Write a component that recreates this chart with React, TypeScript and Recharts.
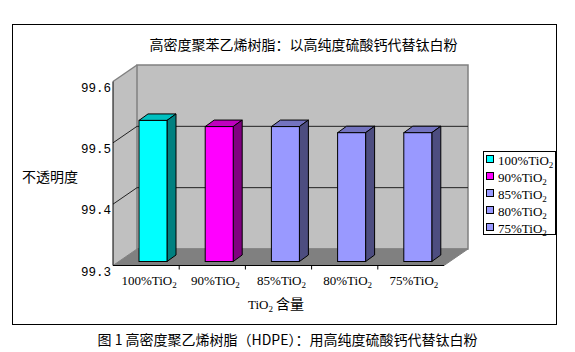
import React from 'react';
import { BarChart, Bar, XAxis, YAxis, ReferenceArea, ReferenceLine, Legend } from 'recharts';

const categories = ['100%TiO2', '90%TiO2', '85%TiO2', '80%TiO2', '75%TiO2'];
const opacityValues = [99.53, 99.52, 99.52, 99.51, 99.51];
const yTicks = [99.3, 99.4, 99.5, 99.6];
const gridValues = [99.4, 99.5];

const faceColors = ['#00ffff', '#ff00ff', '#9999ff', '#9999ff', '#9999ff'];
const sideColors = ['#008080', '#800080', '#4d4d80', '#4d4d80', '#4d4d80'];
const topColors = ['#00c0c0', '#c000c0', '#7373bf', '#7373bf', '#7373bf'];

const data = categories.map((name, i) => ({ name, value: opacityValues[i] }));

// depth of the 3D box and of the bars
const DX = 24;
const DY = 16.5;
const BAR_DX = 7;
const BAR_DY = 4;
const BAR_DEPTH_X = 9;
const BAR_DEPTH_Y = 6.5;

const serif = '"Liberation Serif", "Times New Roman", serif';
const cjk = '"Noto Sans CJK SC", sans-serif';
const mono = '"Liberation Mono", "DejaVu Sans Mono", monospace';

const Box = (props: any) => {
  const { x, y, width, height } = props;
  const b = y + height;
  return (
    <g>
      <polygon
        points={`${x},${y} ${x + DX},${y - DY} ${x + DX},${b - DY} ${x},${b}`}
        fill="#c0c0c0"
      />
      <rect x={x + DX} y={y - DY} width={width} height={height} fill="#c0c0c0" stroke="#808080" strokeWidth={1.5} />
      <polygon
        points={`${x},${b} ${x + DX},${b - DY} ${x + width + DX},${b - DY} ${x + width},${b}`}
        fill="#808080"
        stroke="#808080"
      />
      <line x1={x} y1={y} x2={x + DX} y2={y - DY} stroke="#808080" strokeWidth={1.5} />
    </g>
  );
};

const GridLine = (props: any) => {
  const { x1, y1, x2 } = props;
  return (
    <polyline
      points={`${x1},${y1} ${x1 + DX},${y1 - DY} ${x2 + DX},${y1 - DY}`}
      fill="none"
      stroke="#222"
      strokeWidth={1}
    />
  );
};

const Bar3D = (props: any) => {
  const { x, y, width, height, payload } = props;
  const i = categories.indexOf(payload.name);
  const fx = x + BAR_DX;
  const fy = y - BAR_DY;
  const r = fx + width;
  return (
    <g stroke="#000" strokeWidth={1}>
      <polygon
        points={`${fx},${fy} ${fx + BAR_DEPTH_X},${fy - BAR_DEPTH_Y} ${r + BAR_DEPTH_X},${fy - BAR_DEPTH_Y} ${r},${fy}`}
        fill={topColors[i]}
      />
      <polygon
        points={`${r},${fy} ${r + BAR_DEPTH_X},${fy - BAR_DEPTH_Y} ${r + BAR_DEPTH_X},${fy + height - BAR_DEPTH_Y} ${r},${fy + height}`}
        fill={sideColors[i]}
      />
      <rect x={fx} y={fy} width={width} height={height} fill={faceColors[i]} />
    </g>
  );
};

const XTick = (props: any) => {
  const { x, y, payload, index } = props;
  const label: string = payload.value;
  const band = 331 / categories.length;
  return (
    <g>
      {index > 0 && <line x1={x - band / 2} y1={y} x2={x - band / 2} y2={y + 4} stroke="#000" />}
      <text x={x + 3} y={y + 19} textAnchor="middle" fontFamily={serif} fontSize={13} fill="#000">
        <tspan>{label.slice(0, -1)}</tspan>
        <tspan fontSize={9} dy={3}>{label.slice(-1)}</tspan>
      </text>
    </g>
  );
};

const YTick = (props: any) => {
  const { x, y, payload } = props;
  return (
    <text x={x - 2} y={y + 10} textAnchor="end" fontFamily={mono} fontSize={12.5} fill="#000">
      {payload.value.toFixed(1)}
    </text>
  );
};

const LegendBox = () => (
  <div
    style={{
      border: '1px solid #000',
      background: '#fff',
      width: 73,
      height: 84,
      boxSizing: 'border-box',
      padding: '1px 0 0 2px',
    }}
  >
    {categories.map((c, i) => (
      <div key={c} style={{ display: 'flex', alignItems: 'flex-start', height: 17, whiteSpace: 'nowrap' }}>
        <div
          style={{
            width: 8,
            height: 8,
            boxSizing: 'border-box',
            border: '1px solid #000',
            background: faceColors[i],
            marginTop: 2,
            marginRight: 4,
          }}
        />
        <span style={{ fontFamily: serif, fontSize: 13, lineHeight: '15px', color: '#000' }}>
          {c.slice(0, -1)}
          <sub style={{ fontSize: 9, verticalAlign: -3, lineHeight: 0 }}>{c.slice(-1)}</sub>
        </span>
      </div>
    ))}
  </div>
);

const App = () => {
  return (
    <div style={{ position: 'absolute', left: 0, top: 0, width: 575, height: 352, background: '#fff', overflow: 'hidden' }}>
      <div
        style={{
          position: 'absolute',
          left: 12,
          top: 24,
          width: 545,
          height: 301,
          border: '1px solid #000',
          boxSizing: 'border-box',
        }}
      />
      <div
        style={{
          position: 'absolute',
          left: 0,
          top: 0,
          width: 575,
          height: 352,
        }}
      >
        <BarChart width={575} height={352} data={data} margin={{ top: 81.5, right: 131, bottom: 0, left: 0 }}>
          <ReferenceArea y1={99.3} y2={99.6} shape={<Box />} ifOverflow="visible" zIndex={-90} />
          {gridValues.map((v) => (
            <ReferenceLine key={v} y={v} shape={<GridLine />} zIndex={-80} />
          ))}
          <XAxis
            dataKey="name"
            height={86.5}
            axisLine={{ stroke: '#000' }}
            tickLine={false}
            tickSize={0}
            tickMargin={0}
            tick={<XTick />}
            interval={0}
          />
          <YAxis
            width={113}
            domain={[99.3, 99.6]}
            ticks={yTicks}
            allowDataOverflow
            axisLine={{ stroke: '#000' }}
            tickLine={false}
            tickSize={0}
            tickMargin={0}
            tick={<YTick />}
          />
          <Bar dataKey="value" barSize={28} shape={<Bar3D />} isAnimationActive={false} />
          <Legend
            layout="vertical"
            align="center"
            verticalAlign="middle"
            content={<LegendBox />}
            wrapperStyle={{ position: 'absolute', left: 483, top: 151, width: 73, height: 84 }}
          />
        </BarChart>
      </div>
      <div
        style={{
          position: 'absolute',
          left: 100,
          top: 34,
          width: 407,
          textAlign: 'center',
          fontFamily: cjk,
          fontSize: 14,
          lineHeight: '20px',
          color: '#000',
        }}
      >
        高密度聚苯乙烯树脂：以高纯度硫酸钙代替钛白粉
      </div>
      <div
        style={{
          position: 'absolute',
          left: 22,
          top: 166,
          fontFamily: cjk,
          fontSize: 14,
          lineHeight: '20px',
          color: '#000',
        }}
      >
        不透明度
      </div>
      <div
        style={{
          position: 'absolute',
          left: 248,
          top: 293,
          whiteSpace: 'nowrap',
          fontSize: 13,
          lineHeight: '20px',
          color: '#000',
        }}
      >
        <span style={{ fontFamily: serif }}>
          TiO<sub style={{ fontSize: 9, verticalAlign: -3, lineHeight: 0 }}>2</sub>
        </span>
        <span style={{ fontFamily: cjk, fontSize: 14 }}> 含量</span>
      </div>
      <div
        style={{
          position: 'absolute',
          left: 0,
          top: 329,
          width: 575,
          textAlign: 'center',
          fontFamily: cjk,
          fontSize: 14,
          lineHeight: '20px',
          color: '#000',
        }}
      >
        图 1 高密度聚乙烯树脂（HDPE）：用高纯度硫酸钙代替钛白粉
      </div>
    </div>
  );
};

export default App;
